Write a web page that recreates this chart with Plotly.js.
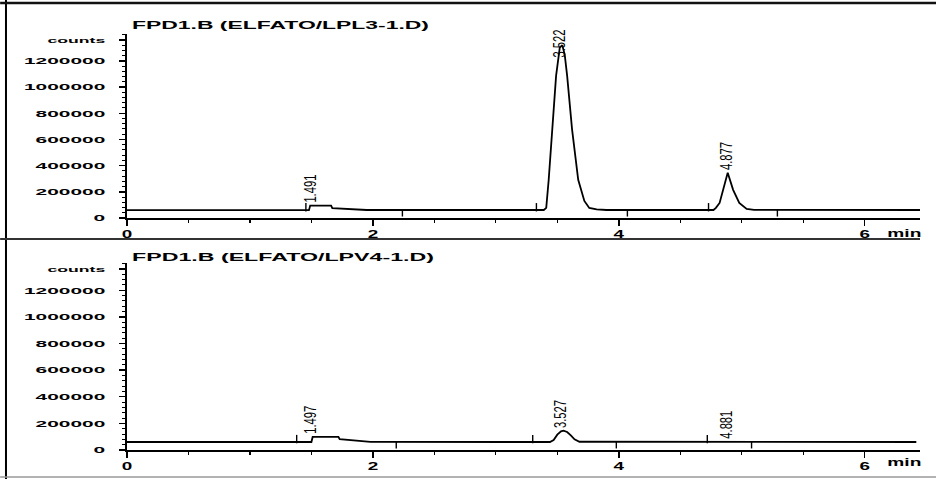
<!DOCTYPE html>
<html><head><meta charset="utf-8">
<script src="https://cdn.plot.ly/plotly-3.0.1.min.js"></script>
<style>html,body{margin:0;padding:0;background:#fff}#chart{width:936px;height:479px}</style>
</head><body><div id="chart"></div>
<script>
// ---- data ----
const topTitle = "FPD1.B (ELFATO/LPL3-1.D)";
const bottomTitle = "FPD1.B (ELFATO/LPV4-1.D)";

const topTime   = [0, 1.48, 1.49, 1.66, 1.67, 1.75, 1.85, 1.95, 3.39, 3.41, 3.43, 3.46, 3.49, 3.52, 3.54, 3.56, 3.58, 3.62, 3.67, 3.72, 3.76, 3.82, 3.90, 4.77, 4.79, 4.82, 4.85, 4.886, 4.93, 4.98, 5.04, 5.10, 6.45];
const topCounts = [60000, 60000, 95000, 95000, 75000, 72000, 66000, 61000, 61000, 77000, 292000, 677000, 1085000, 1300000, 1320000, 1250000, 1085000, 677000, 292000, 130000, 77000, 66000, 61000, 61000, 77000, 115000, 215000, 346000, 215000, 115000, 70000, 62000, 61000];

const bottomTime   = [0, 1.50, 1.51, 1.72, 1.73, 1.83, 1.98, 3.44, 3.47, 3.50, 3.53, 3.55, 3.58, 3.61, 3.64, 3.68, 6.42];
const bottomCounts = [60000, 60000, 98000, 98000, 82000, 75000, 61000, 60000, 75000, 115000, 140000, 145000, 135000, 110000, 80000, 62000, 60000];

const topPeakTimes = [1.491, 3.522, 4.877];
const topPeakLabels = ["1.491", "3.522", "4.877"];
const bottomPeakTimes = [1.497, 3.527, 4.881];
const bottomPeakLabels = ["1.497", "3.527", "4.881"];

// integration event marks (above / below the baseline)
const topEventUp = [1.455, 3.33, 4.73];
const topEventDown = [2.24, 4.07, 5.29];
const bottomEventUp = [1.38, 3.30, 4.72];
const bottomEventDown = [2.19, 3.98, 5.08];
const eventLevel = 60000;

const yTickVals = [0, 200000, 400000, 600000, 800000, 1000000, 1200000, 1360000];
const yTickText = ["0", "200000", "400000", "600000", "800000", "1000000", "1200000", '<span style="font-size:8px">counts</span>'];
const xTickVals = [0, 2, 4, 6];
const xTickText = ["0", "2", "4", "6"];

// ---- helpers ----
function interp(ts, cs, t) {
  for (let i = 0; i < ts.length - 1; i++) {
    if (t >= ts[i] && t <= ts[i + 1]) {
      const f = (t - ts[i]) / (ts[i + 1] - ts[i]);
      return cs[i] + f * (cs[i + 1] - cs[i]);
    }
  }
  return cs[cs.length - 1];
}
function apexNear(ts, cs, t) {
  let m = interp(ts, cs, t);
  ts.forEach((v, i) => { if (Math.abs(v - t) <= 0.06 && cs[i] > m) m = cs[i]; });
  return m;
}
const LABEL_CAP = 1200000; // labels stay inside the plot top, as in the printout

const lineStyle = {color: '#000', width: 1.8};
const tickMarker = (size) => ({symbol: 'line-ns-open', size: size, color: '#000', line: {color: '#000', width: 1.4}});
const data = [
  {x: topTime, y: topCounts, xaxis: 'x', yaxis: 'y', mode: 'lines', line: lineStyle, hoverinfo: 'skip'},
  {x: bottomTime, y: bottomCounts, xaxis: 'x2', yaxis: 'y2', mode: 'lines', line: lineStyle, hoverinfo: 'skip'},
  {x: topEventUp, y: topEventUp.map(() => eventLevel + 22000), xaxis: 'x', yaxis: 'y', mode: 'markers', marker: tickMarker(6), hoverinfo: 'skip'},
  {x: topEventDown, y: topEventDown.map(() => eventLevel - 22000), xaxis: 'x', yaxis: 'y', mode: 'markers', marker: tickMarker(5), hoverinfo: 'skip'},
  {x: bottomEventUp, y: bottomEventUp.map(() => eventLevel + 22000), xaxis: 'x2', yaxis: 'y2', mode: 'markers', marker: tickMarker(6), hoverinfo: 'skip'},
  {x: bottomEventDown, y: bottomEventDown.map(() => eventLevel - 22000), xaxis: 'x2', yaxis: 'y2', mode: 'markers', marker: tickMarker(5), hoverinfo: 'skip'}
];

const tickFont = {family: 'Liberation Sans, Arial, sans-serif', size: 9.5, color: '#000', weight: 'bold'};
const xTickFont = {family: 'Liberation Sans, Arial, sans-serif', size: 10.5, color: '#000', weight: 'bold'};
function yAxis(domain) {
  return {
    domain: domain, range: [0, 1405000], tickmode: 'array', tickvals: yTickVals, ticktext: yTickText,
    showline: true, linecolor: '#000', linewidth: 1.8, ticks: 'outside', ticklen: 6, tickwidth: 1.4, tickcolor: '#000',
    ticklabelstandoff: 12, tickfont: tickFont, showgrid: false, zeroline: false, fixedrange: true,
    minor: {tickmode: 'linear', tick0: 0, dtick: 40000, ticks: 'outside', ticklen: 3, tickwidth: 1, tickcolor: '#000', showgrid: false}
  };
}
function xAxis(anchor) {
  return {
    domain: [0, 1], range: [0, 6.45], anchor: anchor, tickmode: 'array', tickvals: xTickVals, ticktext: xTickText,
    showline: true, linecolor: '#000', linewidth: 1.8, ticks: 'outside', ticklen: 6, tickwidth: 1.6, tickcolor: '#000',
    tickfont: xTickFont, showgrid: false, zeroline: false, fixedrange: true, ticklabelstandoff: 0,
    minor: {tickmode: 'linear', tick0: 0, dtick: 0.5, ticks: 'outside', ticklen: 3, tickwidth: 1.2, tickcolor: '#000', showgrid: false}
  };
}

const annotations = [];
const stretchSpec = [];
function peakLabels(times, labels, ts, cs, xref, yref) {
  times.forEach((t, i) => {
    annotations.push({
      x: t, y: Math.min(apexNear(ts, cs, t), LABEL_CAP), xref: xref, yref: yref, yshift: 17,
      text: labels[i], textangle: -90, showarrow: false, xanchor: 'center', yanchor: 'middle',
      font: {family: 'Liberation Sans, Arial, sans-serif', size: 17, color: '#000'}
    });
    stretchSpec.push({len: 28});
  });
}
peakLabels(topPeakTimes, topPeakLabels, topTime, topCounts, 'x', 'y');
peakLabels(bottomPeakTimes, bottomPeakLabels, bottomTime, bottomCounts, 'x2', 'y2');

const titleFont = {family: 'Liberation Sans, Arial, sans-serif', size: 11, color: '#000', weight: 'bold'};
annotations.push({x: 0.004, y: 1.0216, xref: 'paper', yref: 'paper', text: topTitle, showarrow: false,
  xanchor: 'left', yanchor: 'middle', align: 'left', font: titleFont});
stretchSpec.push({len: 297});
annotations.push({x: 0.004, y: 0.464, xref: 'paper', yref: 'paper', text: bottomTitle, showarrow: false,
  xanchor: 'left', yanchor: 'middle', align: 'left', font: titleFont});
stretchSpec.push({len: 302});
annotations.push({x: 0.981, y: 0.522, xref: 'paper', yref: 'paper', text: 'min', showarrow: false,
  xanchor: 'center', yanchor: 'middle', font: xTickFont});
stretchSpec.push({len: 34});
annotations.push({x: 0.981, y: -0.030, xref: 'paper', yref: 'paper', text: 'min', showarrow: false,
  xanchor: 'center', yanchor: 'middle', font: xTickFont});
stretchSpec.push({len: 34});

const shapes = [
  {type: 'line', xref: 'paper', yref: 'paper', x0: -0.1526, x1: -0.1526, y0: -0.07, y1: 1.082, line: {color: '#000', width: 2}},
  {type: 'line', xref: 'paper', yref: 'paper', x0: -0.16, x1: 1.021, y0: 1.0745, y1: 1.0745, line: {color: '#111', width: 2.5}},
  {type: 'line', xref: 'paper', yref: 'paper', x0: -0.16, x1: 1.0, y0: 0.5072, y1: 0.5072, line: {color: '#333', width: 2}},
  {type: 'line', xref: 'paper', yref: 'paper', x0: -0.16, x1: 1.021, y0: -0.0649, y1: -0.0649, line: {color: '#999', width: 1.5}}
];

const layout = {
  width: 936, height: 479, margin: {l: 127, r: 16, t: 34, b: 29},
  paper_bgcolor: '#fff', plot_bgcolor: '#fff', showlegend: false, hovermode: false,
  xaxis: xAxis('y'), yaxis: yAxis([0.5577, 1]),
  xaxis2: xAxis('y2'), yaxis2: yAxis([0, 0.4495]),
  annotations: annotations, shapes: shapes
};

Plotly.newPlot('chart', data, layout, {displayModeBar: false, staticPlot: true}).then(gd => {
  const setLen = (t, len) => { t.setAttribute('textLength', len.toFixed(1)); t.setAttribute('lengthAdjust', 'spacingAndGlyphs'); };
  gd.querySelectorAll('.ytick text, .y2tick text').forEach(t => setLen(t, t.getComputedTextLength() * 2.2));
  gd.querySelectorAll('.xtick text, .x2tick text').forEach(t => setLen(t, t.getComputedTextLength() * 1.8));
  gd.querySelectorAll('g.annotation').forEach(g => {
    const i = +g.getAttribute('data-index');
    const t = g.querySelector('text.annotation-text');
    const s = stretchSpec[i];
    if (!t || !s) return;
    setLen(t, s.len !== undefined ? s.len : t.getComputedTextLength() * s.factor);
  });
});
</script></body></html>
